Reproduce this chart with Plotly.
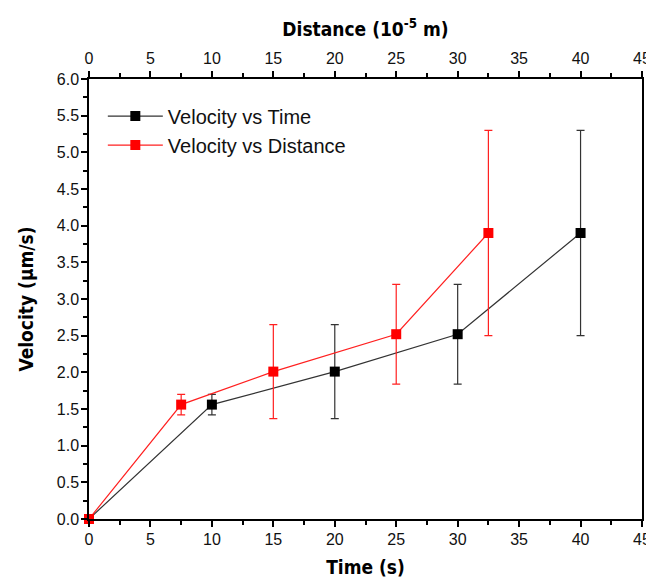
import plotly.graph_objects as go

# data
time_s = [0, 10, 20, 30, 40]
distance = [0, 7.5, 15, 25, 32.5]
velocity = [0, 1.56, 2.01, 2.52, 3.9]
velocity_err = [0, 0.14, 0.64, 0.68, 1.4]

tick_font = dict(family="Liberation Sans, Arial", size=16, color="#111111")
title_font = dict(family="DejaVu Sans Condensed, Arial", size=19, color="black")

fig = go.Figure()

fig.add_trace(go.Scatter(
    x=time_s, y=velocity,
    mode="lines+markers",
    name="Velocity vs Time",
    line=dict(color="#333333", width=1.2),
    marker=dict(symbol="square", size=10, color="black"),
    error_y=dict(type="data", array=velocity_err, color="#333333", thickness=1.2, width=4),
    cliponaxis=False,
))

fig.add_trace(go.Scatter(
    x=distance, y=velocity,
    xaxis="x2",
    mode="lines+markers",
    name="Velocity vs Distance",
    line=dict(color="#ff2020", width=1.2),
    marker=dict(symbol="square", size=10, color="#ff0000"),
    error_y=dict(type="data", array=velocity_err, color="#ff2020", thickness=1.2, width=4),
    cliponaxis=False,
))

axis_common = dict(
    range=[0, 45], dtick=5, tick0=0,
    ticks="outside", ticklen=6, tickwidth=1.5, tickcolor="black",
    showline=True, linecolor="black", linewidth=1.5,
    showgrid=False, zeroline=False, automargin=False,
    tickfont=tick_font,
    minor=dict(dtick=2.5, ticks="outside", ticklen=4, tickwidth=1.5, tickcolor="black"),
)

# page body has an 8px margin, so the figure is 8px smaller than the window
fig.update_layout(
    width=646, height=572,
    paper_bgcolor="white", plot_bgcolor="white",
    margin=dict(l=81, r=12, t=71, b=61),
    showlegend=True,
    legend=dict(
        x=0.025, y=0.96, xanchor="left", yanchor="top",
        bgcolor="rgba(0,0,0,0)",
        font=dict(family="Liberation Sans, Arial", size=20, color="#111111"),
        tracegroupgap=0, itemwidth=55,
    ),
    xaxis=dict(
        **axis_common,
        ticklabelstandoff=-1,
        title=dict(text="<b>Time (s)</b>", font=title_font, standoff=14),
    ),
    xaxis2=dict(
        **axis_common,
        overlaying="x", side="top",
        ticklabelstandoff=1,
        title=dict(text="<b>Distance (10<sup>-5</sup> m)</b>", font=title_font, standoff=8),
    ),
    yaxis=dict(
        range=[0, 6], dtick=0.5, tick0=0, tickformat=".1f",
        ticks="outside", ticklen=6, tickwidth=1.5, tickcolor="black",
        showline=True, linecolor="black", linewidth=1.5, mirror=True,
        showgrid=False, zeroline=False, automargin=False,
        ticklabelstandoff=-1,
        tickfont=tick_font,
        minor=dict(dtick=0.25, ticks="outside", ticklen=4, tickwidth=1.5, tickcolor="black"),
        title=dict(text="<b>Velocity (μm/s)</b>", font=title_font, standoff=18),
    ),
)

fig.write_html("out.html")
